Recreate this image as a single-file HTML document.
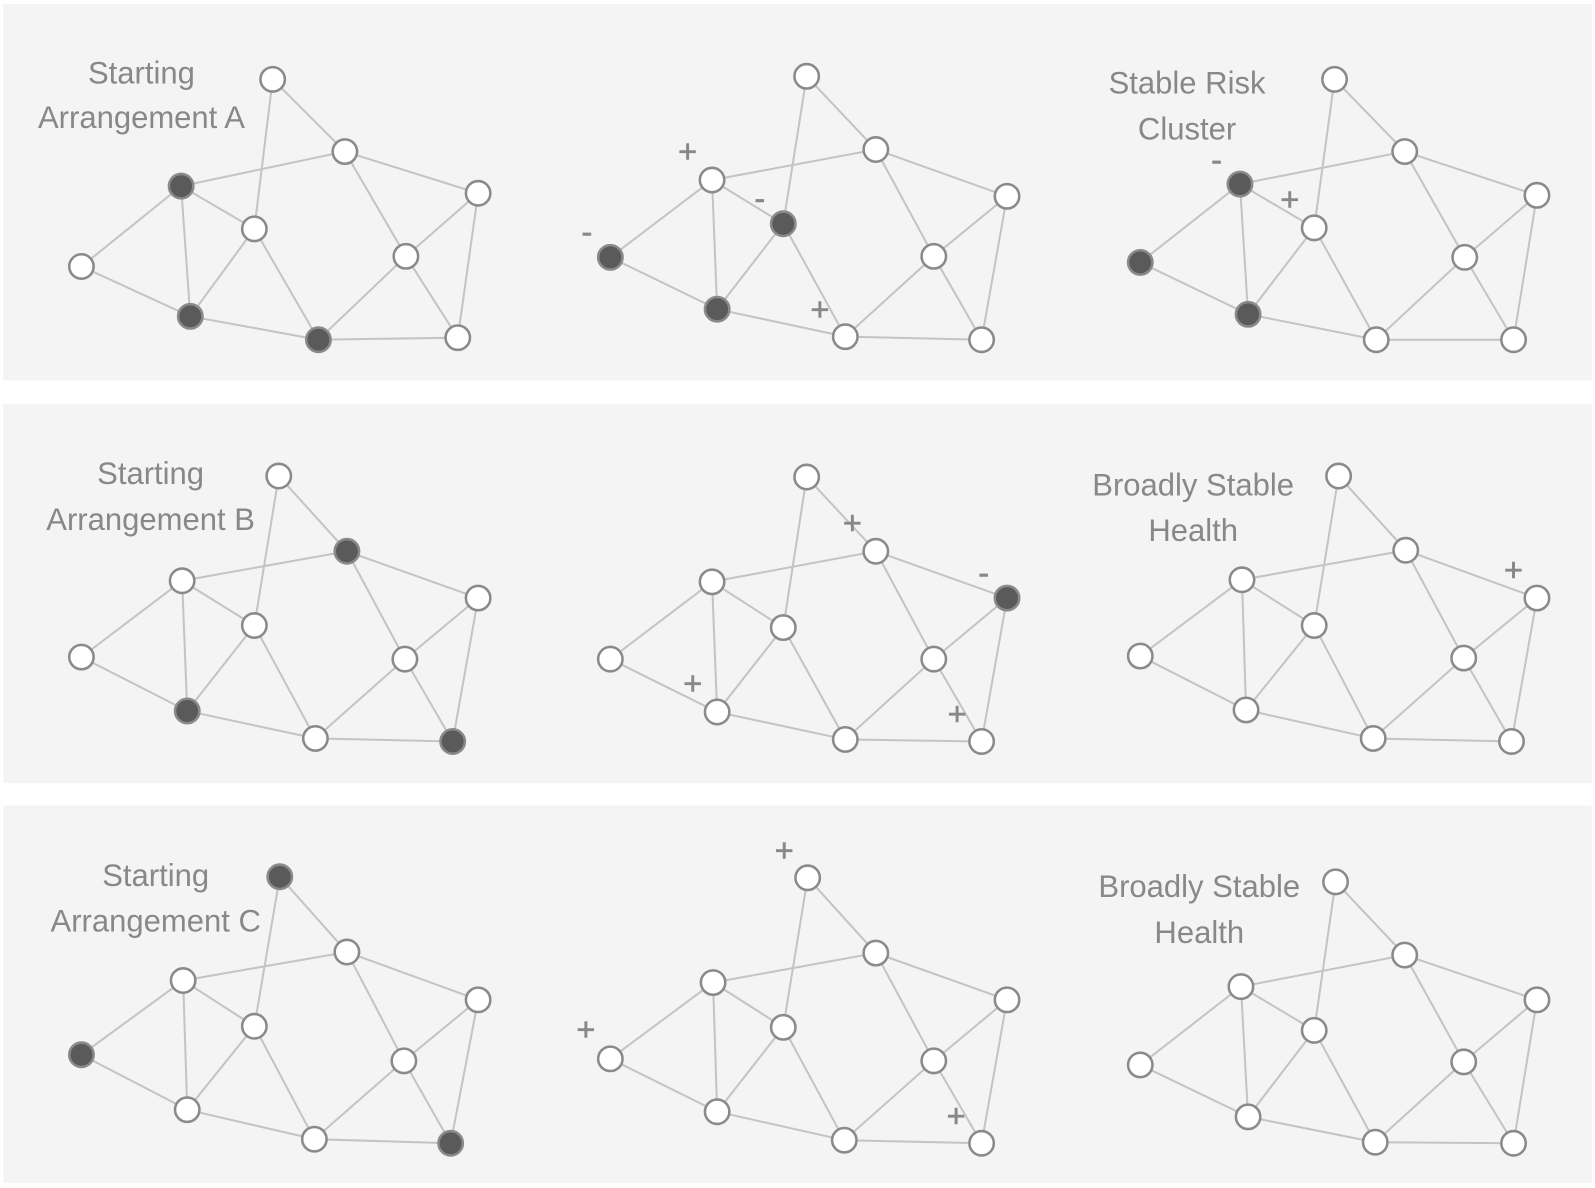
<!DOCTYPE html>
<html><head><meta charset="utf-8"><style>
html,body{margin:0;padding:0;background:#fff}
svg{display:block}
text{font-family:"Liberation Sans",sans-serif;fill:#888}
.t{font-size:30.5px;text-anchor:middle}
.s{font-size:32px;text-anchor:middle;stroke:#888;stroke-width:0.6}
.e{fill:none;stroke:#c4c4c4;stroke-width:2}
circle{stroke:#8a8a8a;stroke-width:2.5;fill:#fff}
circle.d{fill:#5a5a5a}
</style></head><body>
<svg width="1595" height="1188" viewBox="0 0 1568 1168" xmlns="http://www.w3.org/2000/svg">
<rect x="0" y="0" width="1568" height="1168" fill="#fff"/>
<rect x="3" y="4" width="1562" height="370" fill="#f4f4f4"/>
<rect x="3" y="397" width="1562" height="373" fill="#f4f4f4"/>
<rect x="3" y="792" width="1562" height="371" fill="#f4f4f4"/>

<path class="e" d="M268 78L339 149M268 78L250 225M178 183L339 149L470 190M339 149L399 252M178 183L250 225M178 183L80 262M178 183L187 311M250 225L187 311M250 225L313 334M80 262L187 311L313 334L399 252L470 190L450 332L313 334M399 252L450 332"/>
<circle cx="268" cy="78" r="12"/><circle cx="339" cy="149" r="12"/><circle cx="470" cy="190" r="12"/><circle class="d" cx="178" cy="183" r="12"/><circle cx="250" cy="225" r="12"/><circle cx="80" cy="262" r="12"/><circle cx="399" cy="252" r="12"/><circle class="d" cx="187" cy="311" r="12"/><circle class="d" cx="313" cy="334" r="12"/><circle cx="450" cy="332" r="12"/>

<path class="e" d="M793 75L861 147M793 75L770 220M700 177L861 147L990 193M861 147L918 252M700 177L770 220M700 177L600 253M700 177L705 304M770 220L705 304M770 220L831 331M600 253L705 304L831 331L918 252L990 193L965 334L831 331M918 252L965 334"/>
<circle cx="793" cy="75" r="12"/><circle cx="861" cy="147" r="12"/><circle cx="990" cy="193" r="12"/><circle cx="700" cy="177" r="12"/><circle class="d" cx="770" cy="220" r="12"/><circle class="d" cx="600" cy="253" r="12"/><circle cx="918" cy="252" r="12"/><circle class="d" cx="705" cy="304" r="12"/><circle cx="831" cy="331" r="12"/><circle cx="965" cy="334" r="12"/>

<path class="e" d="M1312 78L1381 149M1312 78L1292 224M1219 181L1381 149L1511 192M1381 149L1440 253M1219 181L1292 224M1219 181L1121 258M1219 181L1227 309M1292 224L1227 309M1292 224L1353 334M1121 258L1227 309L1353 334L1440 253L1511 192L1488 334L1353 334M1440 253L1488 334"/>
<circle cx="1312" cy="78" r="12"/><circle cx="1381" cy="149" r="12"/><circle cx="1511" cy="192" r="12"/><circle class="d" cx="1219" cy="181" r="12"/><circle cx="1292" cy="224" r="12"/><circle class="d" cx="1121" cy="258" r="12"/><circle cx="1440" cy="253" r="12"/><circle class="d" cx="1227" cy="309" r="12"/><circle cx="1353" cy="334" r="12"/><circle cx="1488" cy="334" r="12"/>

<path class="e" d="M274 468L341 542M274 468L250 615M179 571L341 542L470 588M341 542L398 648M179 571L250 615M179 571L80 646M179 571L184 699M250 615L184 699M250 615L310 726M80 646L184 699L310 726L398 648L470 588L445 729L310 726M398 648L445 729"/>
<circle cx="274" cy="468" r="12"/><circle class="d" cx="341" cy="542" r="12"/><circle cx="470" cy="588" r="12"/><circle cx="179" cy="571" r="12"/><circle cx="250" cy="615" r="12"/><circle cx="80" cy="646" r="12"/><circle cx="398" cy="648" r="12"/><circle class="d" cx="184" cy="699" r="12"/><circle cx="310" cy="726" r="12"/><circle class="d" cx="445" cy="729" r="12"/>

<path class="e" d="M793 469L861 542M793 469L770 617M700 572L861 542L990 588M861 542L918 648M700 572L770 617M700 572L600 648M700 572L705 700M770 617L705 700M770 617L831 727M600 648L705 700L831 727L918 648L990 588L965 729L831 727M918 648L965 729"/>
<circle cx="793" cy="469" r="12"/><circle cx="861" cy="542" r="12"/><circle class="d" cx="990" cy="588" r="12"/><circle cx="700" cy="572" r="12"/><circle cx="770" cy="617" r="12"/><circle cx="600" cy="648" r="12"/><circle cx="918" cy="648" r="12"/><circle cx="705" cy="700" r="12"/><circle cx="831" cy="727" r="12"/><circle cx="965" cy="729" r="12"/>

<path class="e" d="M1316 468L1382 541M1316 468L1292 615M1221 570L1382 541L1511 588M1382 541L1439 647M1221 570L1292 615M1221 570L1121 645M1221 570L1225 698M1292 615L1225 698M1292 615L1350 726M1121 645L1225 698L1350 726L1439 647L1511 588L1486 729L1350 726M1439 647L1486 729"/>
<circle cx="1316" cy="468" r="12"/><circle cx="1382" cy="541" r="12"/><circle cx="1511" cy="588" r="12"/><circle cx="1221" cy="570" r="12"/><circle cx="1292" cy="615" r="12"/><circle cx="1121" cy="645" r="12"/><circle cx="1439" cy="647" r="12"/><circle cx="1225" cy="698" r="12"/><circle cx="1350" cy="726" r="12"/><circle cx="1486" cy="729" r="12"/>

<path class="e" d="M275 862L341 936M275 862L250 1009M180 964L341 936L470 983M341 936L397 1043M180 964L250 1009M180 964L80 1037M180 964L184 1091M250 1009L184 1091M250 1009L309 1120M80 1037L184 1091L309 1120L397 1043L470 983L443 1124L309 1120M397 1043L443 1124"/>
<circle class="d" cx="275" cy="862" r="12"/><circle cx="341" cy="936" r="12"/><circle cx="470" cy="983" r="12"/><circle cx="180" cy="964" r="12"/><circle cx="250" cy="1009" r="12"/><circle class="d" cx="80" cy="1037" r="12"/><circle cx="397" cy="1043" r="12"/><circle cx="184" cy="1091" r="12"/><circle cx="309" cy="1120" r="12"/><circle class="d" cx="443" cy="1124" r="12"/>

<path class="e" d="M794 863L861 937M794 863L770 1010M701 966L861 937L990 983M861 937L918 1043M701 966L770 1010M701 966L600 1041M701 966L705 1093M770 1010L705 1093M770 1010L830 1121M600 1041L705 1093L830 1121L918 1043L990 983L965 1124L830 1121M918 1043L965 1124"/>
<circle cx="794" cy="863" r="12"/><circle cx="861" cy="937" r="12"/><circle cx="990" cy="983" r="12"/><circle cx="701" cy="966" r="12"/><circle cx="770" cy="1010" r="12"/><circle cx="600" cy="1041" r="12"/><circle cx="918" cy="1043" r="12"/><circle cx="705" cy="1093" r="12"/><circle cx="830" cy="1121" r="12"/><circle cx="965" cy="1124" r="12"/>

<path class="e" d="M1313 867L1381 939M1313 867L1292 1013M1220 970L1381 939L1511 983M1381 939L1439 1044M1220 970L1292 1013M1220 970L1121 1047M1220 970L1227 1098M1292 1013L1227 1098M1292 1013L1352 1123M1121 1047L1227 1098L1352 1123L1439 1044L1511 983L1488 1124L1352 1123M1439 1044L1488 1124"/>
<circle cx="1313" cy="867" r="12"/><circle cx="1381" cy="939" r="12"/><circle cx="1511" cy="983" r="12"/><circle cx="1220" cy="970" r="12"/><circle cx="1292" cy="1013" r="12"/><circle cx="1121" cy="1047" r="12"/><circle cx="1439" cy="1044" r="12"/><circle cx="1227" cy="1098" r="12"/><circle cx="1352" cy="1123" r="12"/><circle cx="1488" cy="1124" r="12"/>

<text class="t" x="139" y="82">Starting</text>
<text class="t" x="139" y="126">Arrangement A</text>
<text class="t" x="1167" y="92">Stable Risk</text>
<text class="t" x="1167" y="137">Cluster</text>
<text class="t" x="148" y="476">Starting</text>
<text class="t" x="148" y="521">Arrangement B</text>
<text class="t" x="1173" y="487">Broadly Stable</text>
<text class="t" x="1173" y="532">Health</text>
<text class="t" x="153" y="871">Starting</text>
<text class="t" x="153" y="916">Arrangement C</text>
<text class="t" x="1179" y="882">Broadly Stable</text>
<text class="t" x="1179" y="927">Health</text>

<text class="s" x="676" y="160">+</text>
<text class="s" x="747" y="206">-</text>
<text class="s" x="577" y="239">-</text>
<text class="s" x="806" y="315">+</text>
<text class="s" x="1196" y="168">-</text>
<text class="s" x="1268" y="207">+</text>
<text class="s" x="838" y="525">+</text>
<text class="s" x="967" y="574">-</text>
<text class="s" x="681" y="683">+</text>
<text class="s" x="941" y="713">+</text>
<text class="s" x="1488" y="571">+</text>
<text class="s" x="771" y="847">+</text>
<text class="s" x="576" y="1023">+</text>
<text class="s" x="940" y="1108">+</text>
</svg>
</body></html>
